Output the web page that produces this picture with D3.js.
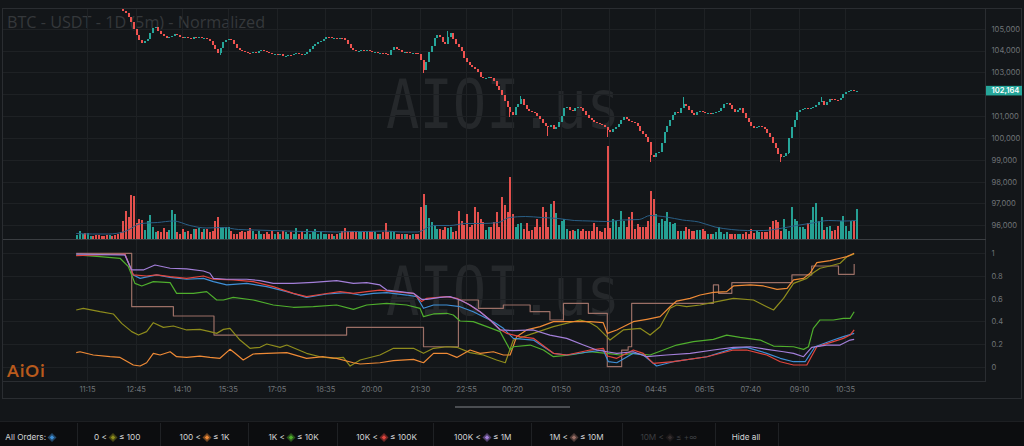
<!DOCTYPE html>
<html><head><meta charset="utf-8">
<script src="https://cdn.jsdelivr.net/npm/d3@7/dist/d3.min.js"></script>
<style>
html,body{margin:0;padding:0;background:#131619;overflow:hidden}
svg{display:block}
</style></head><body>
<svg id="c" width="1024" height="446"></svg>
<script>
// ---------------- DATA ----------------
const titleText = "BTC - USDT - 1D (5m) - Normalized";
const watermark = "AIOI.us";
const logoText = "AiOi";
const startTime = "2025-01-20T10:55:00";   // first 5m candle
const candleMinutes = 5;

// close price of every 5m candle (open = previous close)
const closes = [
106250,106300,106350,106320,106380,106420,106400,106360,106330,106300,106280,106260,106300,106270,106220,106170,106100,
105810,105720,105540,105310,104990,104710,104480,104350,104440,104530,104800,105030,105080,104900,
104760,104670,104570,104620,104670,104760,104710,104620,104570,104620,104570,104530,104620,104570,104620,104570,104590,104530,104440,104250,
104070,103890,104120,104390,104480,104530,104480,104300,104120,104020,103980,103930,103890,103870,103930,103910,103980,104020,103980,103930,
103890,103840,103860,103800,103820,103750,103770,103800,103790,103840,103890,103840,103800,103840,103930,104070,104210,104300,104390,104440,
104530,104620,104600,104570,104590,104560,104580,104570,104480,104300,104120,104020,103980,104000,104020,104000,104030,103980,103930,103950,
103890,103910,103880,103840,103800,104020,104160,104070,104020,103930,103950,103920,103890,103900,103870,103840,103570,103110,103480,103930,
104210,104570,104710,104620,104390,104300,104620,104800,104530,104300,104160,103980,103660,103480,103340,103250,103150,103020,102790,102740,
102760,102790,102740,102600,102380,102190,101960,101690,101410,101190,101050,101410,101550,101780,101510,101320,101230,101190,101140,101000,
100870,100680,100540,100500,100590,100410,100500,100730,101000,101370,101410,101280,101230,101370,101410,101390,101230,101050,100910,100820,
100730,100680,100640,100590,100500,100360,100270,100410,100500,100640,100820,100960,100870,100770,100730,100680,100540,100320,100180,100040,
99810,99220,99130,99310,99350,99770,100270,100540,100820,101050,101190,101140,101370,101550,101460,101280,101140,101050,101190,101230,
101190,101140,101160,101130,101150,101190,101230,101370,101550,101600,101510,101320,101190,101280,101370,101140,100910,100730,100540,100450,
100500,100540,100520,100410,100220,100040,99770,99540,99260,99130,99150,99310,99990,100500,100820,101190,101280,101320,101370,101350,
101380,101410,101510,101640,101690,101510,101640,101780,101760,101740,101720,101830,102010,102100,102150,102190,102140,102164
];
const firstOpen = 106250;
const wickHigh = {17:106100, 137:104900, 164:101900, 224:101860, 275:101890};
const wickLow  = {53:103800, 128:102950, 160:100950, 174:100100, 196:100050, 212:98920, 260:98910, 263:99250};

// volume of every candle
const volumes = [
40,80,50,60,60,30,30,40,40,30,30,40,40,30,40,50,70,
180,280,220,440,430,160,200,190,90,180,240,120,70,80,70,110,70,90,290,250,70,50,100,70,80,50,100,100,110,70,100,100,70,80,180,220,120,120,120,120,80,50,50,
70,80,70,80,110,80,50,80,50,50,70,50,80,50,70,50,80,70,50,70,50,110,50,70,50,100,50,70,100,50,
70,50,50,50,50,30,50,60,80,110,80,80,80,70,70,80,70,70,70,70,70,50,50,70,160,70,80,70,50,50,
50,50,50,40,50,50,50,320,450,340,210,170,130,100,100,90,120,110,120,70,80,280,180,140,250,120,140,320,270,200,
170,90,120,120,170,270,120,
420,340,270,620,250,120,150,160,100,160,80,90,120,200,120,320,270,120,350,380,
260,140,180,200,100,80,90,80,100,80,100,80,80,80,160,120,80,70,110,930,
110,200,180,120,280,180,120,220,270,100,150,120,120,120,
180,480,400,250,160,200,180,270,170,150,160,80,80,80,120,100,
80,80,90,90,100,80,50,50,50,70,
120,70,50,70,50,50,50,50,50,50,70,50,100,60,80,70,70,70,70,120,
180,190,170,80,200,100,80,320,200,180,120,120,100,160,190,320,360,180,220,90,
120,130,80,90,130,180,230,130,80,180,180,300
];
// volume moving average [candle index, value]
const volumeMA = [[0,50],[6,45],[12,45],[18,70],[24,150],[30,160],[36,175],[42,130],[48,105],[54,110],[60,90],[66,85],[72,80],[78,75],[84,70],[90,70],[96,65],[102,70],[108,70],[114,75],[120,65],[126,65],[132,130],[138,130],[144,150],[150,150],[156,160],[160,210],[166,220],[172,210],[178,200],[184,180],[190,175],[196,170],[202,185],[208,190],[212,230],[218,215],[224,185],[230,165],[236,115],[242,90],[248,80],[254,80],[260,100],[266,130],[272,155],[278,180],[284,175],[288,180]];

const priceTicks = [96000,97000,98000,99000,100000,101000,102000,103000,104000,105000];
const lastPriceLabel = "102,164";
const normTicks = [0,0.2,0.4,0.6,0.8,1];
const timeTickLabels = ["11:15","12:45","14:10","15:35","17:05","18:35","20:00","21:30","22:55","00:20","01:50","03:20","04:45","06:15","07:40","09:10","10:35"];

// normalized order-size series [candle index, value]
const allOrders = [[0,0.985],[18,0.99],[21.1,0.809],[23.6,0.779],[29.7,0.809],[34.7,0.788],[40.8,0.771],[47,0.779],[50.7,0.75],[55.6,0.721],[63,0.735],[70.4,0.706],[77.8,0.662],[85.1,0.612],[92.5,0.641],[99.9,0.653],[104.9,0.632],[109.8,0.647],[114.7,0.653],[122.1,0.632],[125.8,0.618],[128.3,0.515],[132,0.544],[136.9,0.544],[141.8,0.529],[146.7,0.485],[150.4,0.441],[154.1,0.397],[157.8,0.338],[161.5,0.25],[168.9,0.235],[176.3,0.118],[181.2,0.103],[189.8,0.132],[194.7,0.147],[196.6,0.044],[199.7,0.035],[205.8,0.118],[209.5,0.103],[214.4,0.006],[220.6,0.044],[233,0.088],[242.8,0.162],[247.7,0.171],[255.1,0.118],[260.1,0.074],[265,0.044],[269.3,0.044],[272.9,0.176],[279.7,0.235],[283.4,0.265],[287.4,0.294]];
const size0to100 = [[0,0.5],[2.6,0.515],[8.8,0.485],[13.7,0.465],[16.8,0.382],[20.5,0.309],[23,0.279],[26,0.309],[28.5,0.388],[32.2,0.347],[35.9,0.359],[40.8,0.324],[45.7,0.329],[49.4,0.309],[51.9,0.294],[54.4,0.329],[56.8,0.338],[60.5,0.235],[64.2,0.162],[67.9,0.171],[70.4,0.2],[75.3,0.171],[77.8,0.191],[85.1,0.118],[90.1,0.088],[95,0.074],[98.7,0.082],[101.2,0.006],[104.9,0.059],[112.2,0.103],[117.2,0.162],[124.6,0.162],[128.3,0.118],[132,0.162],[136.9,0.176],[140.6,0.171],[145.5,0.124],[150.4,0.103],[155.3,0.059],[158.5,0.035],[161.5,0.235],[168.9,0.294],[176.3,0.353],[186.1,0.412],[189.8,0.388],[192.3,0.353],[196,0.265],[197.2,0.235],[202.1,0.324],[208.3,0.338],[212,0.279],[215.7,0.353],[219.4,0.515],[221.8,0.544],[225.5,0.529],[230.5,0.544],[236.7,0.574],[242.8,0.603],[250.2,0.588],[255.1,0.529],[257.6,0.5],[261.3,0.603],[265,0.735],[269.9,0.779],[272.3,0.829],[274.8,0.868],[278.5,0.888],[282.2,0.912],[284.7,0.97],[287.4,0.994]];
const size100to1K = [[0,0.124],[1.4,0.132],[6.3,0.103],[12.5,0.088],[16.2,0.082],[21.1,0.015],[23.6,0.006],[26,0.035],[28.5,0.118],[31,0.103],[34.7,0.132],[37.1,0.088],[40.8,0.082],[45.7,0.094],[49.4,0.082],[53.1,0.074],[56.8,0.153],[58.7,0.118],[61.7,0.059],[65.4,0.112],[70.4,0.118],[77.8,0.124],[85.1,0.074],[91.3,0.088],[96.2,0.074],[102.4,0.035],[104.9,0.024],[112.2,0.035],[117.2,0.053],[124.6,0.065],[128.3,0.035],[132,0.118],[136.9,0.118],[140.6,0.082],[145.5,0.147],[149.2,0.118],[154.1,0.132],[157.8,0.103],[160.3,0.103],[162.7,0.265],[166.4,0.324],[171.4,0.353],[176.3,0.397],[183.7,0.397],[189.8,0.397],[194.7,0.388],[196.2,0.294],[199.7,0.324],[203.4,0.368],[205.8,0.397],[210.8,0.418],[215.7,0.441],[219.4,0.529],[221.8,0.579],[226.8,0.603],[230.5,0.632],[235.4,0.656],[240.3,0.662],[242.8,0.712],[249,0.721],[253.9,0.712],[258.9,0.682],[262.6,0.691],[265,0.765],[268.7,0.779],[271.1,0.824],[273.6,0.918],[278.5,0.935],[282.2,0.956],[284.7,0.971],[287.4,1.0]];
const size1Kto10K = [[0,0.985],[8.8,0.97],[16.2,0.956],[19.3,0.882],[21.7,0.735],[24.2,0.712],[28.5,0.75],[34.7,0.741],[37.1,0.647],[43.3,0.647],[48.2,0.662],[51.9,0.588],[54.4,0.588],[58,0.612],[65.4,0.588],[72.8,0.544],[80.2,0.524],[87.6,0.529],[96.2,0.544],[102.4,0.506],[107.3,0.544],[114.7,0.559],[122.1,0.544],[127,0.515],[128.3,0.441],[132,0.465],[136.9,0.471],[139.3,0.456],[141.8,0.403],[146.7,0.397],[151.7,0.353],[156.6,0.309],[160.3,0.147],[161.5,0.176],[167.7,0.191],[172.6,0.147],[176.3,0.088],[182.4,0.103],[189.8,0.132],[196,0.118],[200.9,0.103],[205.8,0.118],[212,0.103],[216.9,0.147],[221.8,0.191],[228,0.221],[235.4,0.241],[240.3,0.279],[245.3,0.259],[252.7,0.235],[257.6,0.182],[265,0.176],[268.7,0.153],[270.5,0.176],[272.3,0.338],[274.8,0.412],[279.7,0.412],[283.4,0.426],[285.9,0.426],[287.4,0.485]];
const size10Kto100K = [[0,0.979],[18,0.994],[21.1,0.809],[26,0.8],[29.7,0.809],[34.7,0.794],[40.8,0.779],[47,0.8],[50.7,0.771],[58,0.765],[65.4,0.75],[72.8,0.706],[80.2,0.647],[85.1,0.618],[91.3,0.641],[97.5,0.662],[102.4,0.647],[107.3,0.662],[112.2,0.676],[117.2,0.662],[124.6,0.647],[127.6,0.574],[129.5,0.603],[136.9,0.618],[140.6,0.603],[144.3,0.559],[149.2,0.485],[152.9,0.412],[156.6,0.329],[159,0.294],[163.9,0.265],[168.9,0.25],[176.3,0.118],[181.2,0.103],[189.8,0.147],[194.7,0.162],[196.2,0.094],[199.7,0.074],[205.8,0.147],[209.5,0.118],[213.2,0.029],[220.6,0.044],[233,0.088],[242.8,0.147],[247.7,0.147],[255.1,0.103],[260.1,0.044],[265,0.015],[269.9,0.015],[273.6,0.176],[279.7,0.221],[283.4,0.25],[285.9,0.279],[287.4,0.324]];
const size100Kto1M = [[0,0.994],[18,0.985],[20.5,0.853],[24.8,0.853],[29.1,0.897],[34.7,0.868],[40.8,0.862],[47,0.844],[49.4,0.824],[50.7,0.779],[55.6,0.771],[63,0.771],[67.9,0.759],[72.8,0.735],[80.2,0.735],[87.6,0.744],[96.2,0.759],[102.4,0.735],[107.3,0.741],[112.2,0.721],[114.7,0.676],[119.6,0.662],[124.6,0.647],[127.6,0.594],[129.5,0.594],[134.4,0.612],[138.1,0.618],[141.8,0.588],[145.5,0.544],[149.2,0.485],[152.9,0.412],[156.6,0.324],[161.5,0.318],[168.9,0.324],[175,0.279],[181.2,0.25],[187.4,0.191],[192.3,0.147],[196,0.132],[199.7,0.118],[205.8,0.132],[210.8,0.088],[218.1,0.103],[226.8,0.118],[235.4,0.147],[242.8,0.171],[249,0.176],[255.1,0.153],[261.3,0.132],[265,0.118],[268.7,0.088],[271.7,0.171],[277.2,0.191],[282.2,0.191],[285.9,0.235],[287.4,0.241]];
const size1Mto10M = [[0,1.0],[20.5,0.529],[35.9,0.447],[50.9,0.279],[99.9,0.347],[128.3,0.176],[141.2,0.588],[148.6,0.515],[157.8,0.544],[167.7,0.485],[175,0.412],[180,0.559],[189.2,0.471],[196.2,0.0],[201.5,0.147],[203.9,0.176],[205.2,0.559],[235.4,0.721],[237.3,0.647],[242.2,0.741],[264.4,0.809],[271.7,0.888],[281.6,0.815],[287.4,0.906]];

const legendLabels = [
  ["All Orders:", ""], ["0 <", "≤ 100"], ["100 <", "≤ 1K"], ["1K <", "≤ 10K"], ["10K <", "≤ 100K"],
  ["100K <", "≤ 1M"], ["1M <", "≤ 10M"], ["10M <", "≤ +∞"]
];
const hideAllLabel = "Hide all";
const seriesColors = ["#3f8fd6","#8e8c1c","#ef8a36","#4fae2d","#e2453d","#a37fd9","#9b6f66","#6b5a55"];
const seriesHidden = [false,false,false,false,false,false,false,true];

// ---------------- CHART ----------------
const W = 1024, H = 446;
const BG = "#131619", GRID = "#1e2124", FRAME = "#2a2d31", AXIS_TXT = "#6f7377";
const L = 2.5, R = 985.5, TOP = 8.5, SEP = 239.5, LOWB = 381.5, FRAMEB = 398.5;
const svg = d3.select("#c");
const FONT = "Inter, 'Open Sans', sans-serif";

svg.append("rect").attr("width", W).attr("height", H).attr("fill", BG);

const t0 = new Date(startTime);
const minute = 60000;
const n = Math.min(closes.length, volumes.length);
const tOf = i => new Date(t0.getTime() + i * candleMinutes * minute);
const x = d3.scaleTime().domain([t0, tOf(288)]).range([76.2, 855.8]);
const yP = d3.scaleLinear().domain([96000, 105000]).range([225.3, 28.7]);
const yV = d3.scaleLinear().domain([0, 1000]).range([238.5, 138.5]);
const yN = d3.scaleLinear().domain([0, 1]).range([366.7, 253.3]);

const tickDates = timeTickLabels.map(s => {
  const [h, m] = s.split(":").map(Number);
  const d = new Date(t0); d.setHours(h, m, 0, 0);
  if (h * 60 + m < t0.getHours() * 60 + t0.getMinutes()) d.setDate(d.getDate() + 1);
  return d;
});

// title & watermarks (behind)
svg.append("text").attr("x", 7).attr("y", 27.5).text(titleText)
  .attr("font-family", "'Open Sans', sans-serif").attr("font-size", 16.2).attr("fill", "#35383b");
[128, 315].forEach(by => {
  svg.append("text").attr("x", 386).attr("y", by).text(watermark)
    .attr("font-family", "'DejaVu Sans Mono', monospace").attr("font-size", 68)
    .attr("textLength", 234).attr("lengthAdjust", "spacingAndGlyphs")
    .attr("fill", "#25282b");
});

// grids
const gridG = svg.append("g").attr("shape-rendering", "crispEdges");
gridG.selectAll(".hp").data(priceTicks).join("line").attr("class", "hp")
  .attr("x1", L).attr("x2", R).attr("y1", d => Math.round(yP(d)) + 0.5).attr("y2", d => Math.round(yP(d)) + 0.5)
  .attr("stroke", GRID);
gridG.selectAll(".hn").data(normTicks).join("line").attr("class", "hn")
  .attr("x1", L).attr("x2", R).attr("y1", d => Math.round(yN(d)) + 0.5).attr("y2", d => Math.round(yN(d)) + 0.5)
  .attr("stroke", GRID);
gridG.selectAll(".vt").data(tickDates).join("line").attr("class", "vt")
  .attr("x1", d => Math.round(x(d)) + 0.5).attr("x2", d => Math.round(x(d)) + 0.5)
  .attr("y1", TOP).attr("y2", LOWB).attr("stroke", GRID);

// clips
const defs = svg.append("defs");
defs.append("clipPath").attr("id", "clipTop").append("rect")
  .attr("x", L).attr("y", TOP).attr("width", R - L).attr("height", SEP - TOP);
defs.append("clipPath").attr("id", "clipLow").append("rect")
  .attr("x", L).attr("y", SEP).attr("width", R - L).attr("height", LOWB - SEP);

const UP = "#26a69a", DN = "#ef5350";
const candles = d3.range(n).map(i => {
  const o = i === 0 ? firstOpen : closes[i - 1], c = closes[i];
  const hi = Math.max(o, c, wickHigh[i] || 0), lo = Math.min(o, c, wickLow[i] || Infinity);
  return { t: tOf(i), o, c, hi, lo, v: volumes[i], up: c >= o };
});

const topG = svg.append("g").attr("clip-path", "url(#clipTop)");
// volume
topG.append("g").attr("shape-rendering", "crispEdges").selectAll("rect").data(candles).join("rect")
  .attr("x", d => Math.round(x(d.t)) - 0.5).attr("width", 2)
  .attr("y", d => yV(d.v)).attr("height", d => yV(0) - yV(d.v))
  .attr("fill", d => d.up ? UP : DN).attr("opacity", 0.95);
topG.append("path").datum(volumeMA)
  .attr("d", d3.line().x(d => x(tOf(d[0]))).y(d => yV(d[1])).curve(d3.curveMonotoneX))
  .attr("fill", "none").attr("stroke", "#2a5f86").attr("stroke-width", 1);
// candles
const cg = topG.append("g").attr("shape-rendering", "crispEdges");
cg.selectAll("line").data(candles).join("line")
  .attr("x1", d => Math.round(x(d.t)) + 0.5).attr("x2", d => Math.round(x(d.t)) + 0.5)
  .attr("y1", d => yP(d.hi)).attr("y2", d => yP(d.lo))
  .attr("stroke", d => d.up ? UP : DN).attr("stroke-width", 1);
cg.selectAll("rect").data(candles).join("rect")
  .attr("x", d => Math.round(x(d.t)) - 0.5).attr("width", 2)
  .attr("y", d => yP(Math.max(d.o, d.c)))
  .attr("height", d => Math.max(1, Math.abs(yP(d.o) - yP(d.c))))
  .attr("fill", d => d.up ? UP : DN);

// lower panel lines
const lowG = svg.append("g").attr("clip-path", "url(#clipLow)");
const series = [
  { data: size1Mto10M, color: seriesColors[6], step: true },
  { data: size0to100, color: seriesColors[1] },
  { data: size100to1K, color: seriesColors[2] },
  { data: size1Kto10K, color: seriesColors[3] },
  { data: allOrders, color: seriesColors[0] },
  { data: size10Kto100K, color: seriesColors[4] },
  { data: size100Kto1M, color: seriesColors[5] }
];
series.forEach(s => {
  const lineGen = d3.line().x(d => x(tOf(d[0]))).y(d => yN(d[1]))
    .curve(s.step ? d3.curveStepAfter : d3.curveLinear);
  lowG.append("path").datum(s.data).attr("d", lineGen)
    .attr("fill", "none").attr("stroke", s.color).attr("stroke-width", 1.2)
    .attr("stroke-linejoin", "round");
});

// frame lines
const fr = svg.append("g").attr("shape-rendering", "crispEdges").attr("stroke", FRAME).attr("fill", "none");
fr.append("rect").attr("x", L).attr("y", TOP).attr("width", 1021 - L).attr("height", FRAMEB - TOP);
fr.append("line").attr("x1", R).attr("x2", R).attr("y1", TOP).attr("y2", LOWB);
fr.append("line").attr("x1", L).attr("x2", R).attr("y1", SEP).attr("y2", SEP).attr("stroke", "#3a3d41");
fr.append("line").attr("x1", L).attr("x2", R).attr("y1", LOWB).attr("y2", LOWB);

// axes
const lp = closes[n - 1];
function styleAxis(sel) {
  sel.select(".domain").remove();
  sel.selectAll(".tick line").remove();
  sel.selectAll("text").attr("fill", AXIS_TXT).attr("font-family", FONT).attr("font-size", 7.6);
}
// price tick labels hidden underneath the last-price tag are left out
const visiblePriceTicks = priceTicks.filter(p => Math.abs(yP(p) - yP(lp)) > 9);
svg.append("g").attr("transform", `translate(${R},0)`)
  .call(d3.axisRight(yP).tickValues(visiblePriceTicks).tickFormat(d3.format(",")).tickSize(0).tickPadding(6))
  .call(styleAxis);
svg.append("g").attr("transform", `translate(${R},0)`)
  .call(d3.axisRight(yN).tickValues(normTicks).tickFormat(d => String(d)).tickSize(0).tickPadding(6))
  .call(styleAxis);
svg.append("g").attr("transform", `translate(0,${LOWB})`)
  .call(d3.axisBottom(x).tickValues(tickDates).tickFormat((d, i) => timeTickLabels[i]).tickSize(0).tickPadding(5))
  .call(styleAxis);

// last price label
svg.append("rect").attr("x", R + 0.5).attr("y", yP(lp) - 4.8).attr("width", 36).attr("height", 9.6)
  .attr("fill", "#26a69a");
svg.append("text").attr("x", R + 6).attr("y", yP(lp)).attr("dy", "0.35em").text(lastPriceLabel)
  .attr("fill", "#ffffff").attr("font-family", FONT).attr("font-size", 7.6).attr("font-weight", 600);

// logo
svg.append("text").attr("x", 7).attr("y", 377).text(logoText)
  .attr("font-family", "'Lato', 'Open Sans', sans-serif").attr("font-weight", 700).attr("font-size", 17)
  .attr("letter-spacing", 1.2).attr("fill", "#b95a1c");

// scroll handle
svg.append("rect").attr("x", 455).attr("y", 406).attr("width", 115).attr("height", 2).attr("fill", "#4a4d51");

// legend
svg.append("rect").attr("x", 0).attr("y", 421).attr("width", W).attr("height", 25).attr("fill", "#0c0d0f");
svg.append("line").attr("x1", 0).attr("x2", W).attr("y1", 421.5).attr("y2", 421.5).attr("stroke", "#1d1f22");
const lg = svg.append("g").attr("font-family", FONT).attr("font-size", 8.2);
const diamondX = [52, 113, 207, 291, 384, 487, 574, 670];
const sepX = [77, 160, 248, 337, 433, 531, 622, 715, 778];
sepX.forEach(sx => lg.append("line").attr("x1", sx + 0.5).attr("x2", sx + 0.5).attr("y1", 423).attr("y2", 446)
  .attr("stroke", "#1f2124"));
const LY = 437.5;
legendLabels.forEach((lab, i) => {
  const cx = diamondX[i];
  const col = seriesHidden[i] ? "#3c3e41" : "#d2d4d6";
  lg.append("text").attr("x", cx - 6).attr("y", LY).attr("dy", "0.35em").attr("text-anchor", "end")
    .attr("fill", col).text(lab[0]);
  if (lab[1]) lg.append("text").attr("x", cx + 6).attr("y", LY).attr("dy", "0.35em")
    .attr("fill", col).text(lab[1]);
  const c = seriesColors[i];
  const op = seriesHidden[i] ? 0.35 : 1;
  lg.append("rect").attr("x", cx - 3.2).attr("y", LY - 3.2).attr("width", 6.4).attr("height", 6.4)
    .attr("transform", `rotate(45 ${cx} ${LY})`).attr("fill", c).attr("opacity", 0.45 * op);
  lg.append("rect").attr("x", cx - 1.6).attr("y", LY - 1.6).attr("width", 3.2).attr("height", 3.2)
    .attr("transform", `rotate(45 ${cx} ${LY})`).attr("fill", c).attr("opacity", op);
});
lg.append("text").attr("x", 746).attr("y", LY).attr("dy", "0.35em").attr("text-anchor", "middle")
  .attr("fill", "#d2d4d6").text(hideAllLabel);
</script>
</body></html>
